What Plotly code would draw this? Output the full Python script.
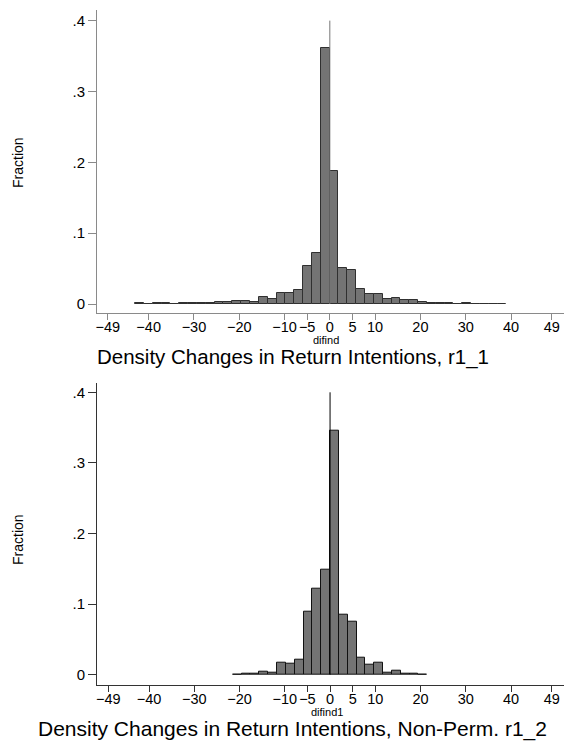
import plotly.graph_objects as go

# ---- data (fractions) ----
top_start = -43.0
top_width = 82.0 / 42
top_frac = [0.001, 0.0005, 0.001, 0.001, 0.0005, 0.001, 0.0013, 0.0013, 0.002, 0.0025,
            0.003, 0.004, 0.004, 0.0035, 0.0092, 0.0073, 0.0162, 0.016, 0.020, 0.054,
            0.0727, 0.361, 0.188, 0.051, 0.048, 0.0215, 0.0144, 0.0144, 0.0073, 0.0088,
            0.006, 0.006, 0.003, 0.002, 0.002, 0.0015, 0.0007, 0.002, 0.0007, 0.0007,
            0.0007, 0.0003]

bot_start = -21.5
bot_width = 43.0 / 22
bot_frac = [0.0003, 0.0015, 0.0015, 0.0047, 0.0028, 0.017, 0.0156, 0.0212, 0.089, 0.122,
            0.149, 0.346, 0.085, 0.0756, 0.0246, 0.0136, 0.0164, 0.0034, 0.0058, 0.0015,
            0.0015, 0.0003]

x_ticks = [-49, -40, -30, -20, -10, -5, 0, 5, 10, 20, 30, 40, 49]
y_ticks = [0, 0.1, 0.2, 0.3, 0.4]
y_tick_text = ["0", ".1", ".2", ".3", ".4"]

top_xtitle = "difind"
bot_xtitle = "difind1"
top_title = "Density Changes in Return Intentions, r1_1"
bot_title = "Density Changes in Return Intentions, Non-Perm. r1_2"
y_title = "Fraction"

W, H = 565, 743
FONT = "Liberation Sans, Arial, sans-serif"

def px_x(p):
    return p / W

def px_y(p):
    return 1 - p / H

fig = go.Figure()

top_centers = [top_start + top_width * (i + 0.5) for i in range(len(top_frac))]
bot_centers = [bot_start + bot_width * (i + 0.5) for i in range(len(bot_frac))]

fig.add_trace(go.Bar(x=top_centers, y=top_frac, width=top_width,
                     marker=dict(color="#747474", line=dict(color="#303030", width=1)),
                     xaxis="x", yaxis="y", showlegend=False))
fig.add_trace(go.Bar(x=bot_centers, y=bot_frac, width=bot_width,
                     marker=dict(color="#747474", line=dict(color="#111111", width=1)),
                     xaxis="x2", yaxis="y2", showlegend=False))

# vertical reference lines at 0
fig.add_trace(go.Scatter(x=[0, 0], y=[0, 0.4], mode="lines",
                         line=dict(color="#777777", width=1),
                         xaxis="x", yaxis="y", showlegend=False, hoverinfo="skip"))
fig.add_trace(go.Scatter(x=[0, 0], y=[0, 0.4], mode="lines",
                         line=dict(color="#000000", width=1),
                         xaxis="x2", yaxis="y2", showlegend=False, hoverinfo="skip"))

xdom = [px_x(97), px_x(564)]
common_x = dict(tickmode="array", tickvals=x_ticks, ticks="outside", ticklen=6,
                tickangle=0, ticklabelstandoff=-5,
                showgrid=False, zeroline=False, showline=True,
                tickfont=dict(family=FONT, size=14.5, color="#000"))
common_y = dict(tickmode="array", tickvals=y_ticks, ticktext=y_tick_text,
                ticks="outside", ticklen=8, showgrid=False, zeroline=False,
                showline=True, tickfont=dict(family=FONT, size=15, color="#000"))

fig.update_layout(
    width=W, height=H,
    margin=dict(l=0, r=0, t=0, b=0),
    paper_bgcolor="white", plot_bgcolor="white",
    bargap=0,
    xaxis=dict(domain=xdom, range=[-51.4, 51.7], anchor="y",
               linecolor="#8a8a8a", tickcolor="#8a8a8a", **common_x),
    yaxis=dict(domain=[px_y(313), px_y(10)], range=[-0.0127, 0.415], anchor="x",
               linecolor="#8a8a8a", tickcolor="#8a8a8a", **common_y),
    xaxis2=dict(domain=xdom, range=[-51.5, 51.7], anchor="y2",
                linecolor="#333333", tickcolor="#333333", **common_x),
    yaxis2=dict(domain=[px_y(685), px_y(382.7)], range=[-0.0146, 0.4136], anchor="x2",
                linecolor="#333333", tickcolor="#333333", **common_y),
)

ann = []
def text(x, y, s, size, angle=0, pad=1):
    ann.append(dict(x=px_x(x), y=px_y(y), xref="paper", yref="paper", text=s,
                    showarrow=False, textangle=angle, xanchor="center", yanchor="middle",
                    borderpad=pad,
                    font=dict(family=FONT, size=size, color="#000")))

text(326, 340, top_xtitle, 11, pad=0)
text(327, 712, bot_xtitle, 11, pad=0)
text(293, 357, top_title, 20.5, pad=0)
text(292, 729, bot_title, 21, pad=0)
text(18, 163, y_title, 14, -90)
text(18, 540, y_title, 14, -90)
fig.update_layout(annotations=ann)

fig.write_html("out.html")
